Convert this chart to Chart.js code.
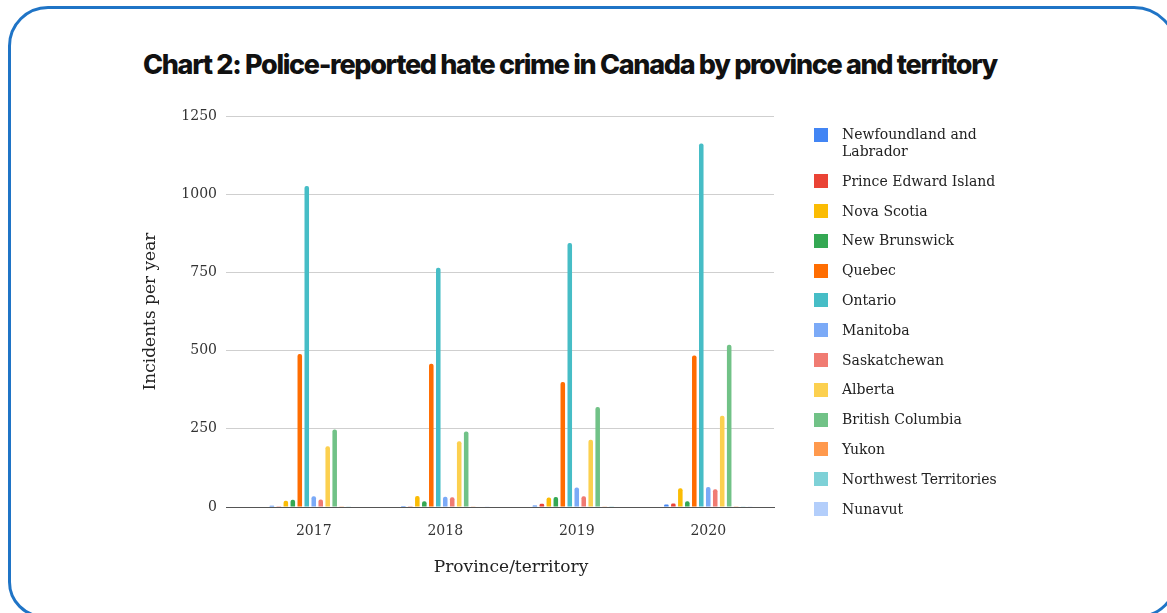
<!DOCTYPE html>
<html>
<head>
<meta charset="utf-8">
<title>Chart 2: Police-reported hate crime in Canada</title>
<script src="https://cdn.jsdelivr.net/npm/chart.js@4.4.1/dist/chart.umd.min.js"></script>
<style>
  html, body { margin: 0; padding: 0; background: #fff; }
  body { width: 1167px; height: 613px; position: relative; overflow: hidden; }
  .card {
    position: absolute; left: 8px; top: 6px; width: 1170px; height: 612px;
    border: 3px solid #1f74c6; border-radius: 40px 44px 40px 36px; box-sizing: border-box;
  }
  #chart { position: absolute; left: 0; top: 0; }
  .title {
    position: absolute; left: 143px; top: 52px; margin: 0; white-space: nowrap;
    font-family: Inter, "Liberation Sans", sans-serif; font-weight: 800;
    font-size: 27px; line-height: 26px; color: #111;
  }
  #legend {
    position: absolute; left: 814px; top: 126px; margin: 0; padding: 0; list-style: none;
    font-family: "DejaVu Serif", serif; font-size: 14px; line-height: 17px; color: #222;
  }
  #legend li { display: flex; align-items: flex-start; margin-bottom: 12.8px; }
  #legend .swatch { width: 14px; height: 14px; margin-top: 1.5px; margin-right: 14px; flex: none; }
  #legend .text { max-width: 170px; }
</style>
</head>
<body>
<div class="card"></div>
<h2 class="title" id="title">Chart 2: Police-reported hate crime in Canada by province and territory</h2>
<canvas id="chart" width="1167" height="613"></canvas>
<ul id="legend"></ul>
<script>
const years = ['2017', '2018', '2019', '2020'];
const yTicks = [0, 250, 500, 750, 1000, 1250];

const newfoundland = [4, 3, 5, 8];
const princeEdward = [2, 2, 10, 11];
const novaScotia = [20, 35, 30, 60];
const newBrunswick = [23, 18, 32, 18];
const quebec = [489, 458, 400, 484];
const ontario = [1026, 765, 844, 1162];
const manitoba = [34, 33, 62, 64];
const saskatchewan = [24, 31, 34, 57];
const alberta = [194, 210, 215, 292];
const britishColumbia = [248, 241, 320, 519];
const yukon = [2, 1, 1, 2];
const northwest = [1, 0, 2, 1];
const nunavut = [0, 1, 0, 1];

const series = [
  ['Newfoundland and Labrador', newfoundland, '#4285f4'],
  ['Prince Edward Island', princeEdward, '#ea4335'],
  ['Nova Scotia', novaScotia, '#fbbc04'],
  ['New Brunswick', newBrunswick, '#34a853'],
  ['Quebec', quebec, '#ff6d01'],
  ['Ontario', ontario, '#46bdc6'],
  ['Manitoba', manitoba, '#7baaf7'],
  ['Saskatchewan', saskatchewan, '#f07b72'],
  ['Alberta', alberta, '#fcd04f'],
  ['British Columbia', britishColumbia, '#71c287'],
  ['Yukon', yukon, '#ff994d'],
  ['Northwest Territories', northwest, '#7ed1d7'],
  ['Nunavut', nunavut, '#b3cefb'],
];

const serif = 'DejaVu Serif';

function fitTitle() {
  // squeeze the bold title to the width it has in the original
  const el = document.getElementById('title');
  const target = 854;
  const chars = el.textContent.length;
  const w = el.getBoundingClientRect().width;
  el.style.letterSpacing = `${(target - w) / chars}px`;
}

function renderLegend() {
  const legend = document.getElementById('legend');
  legend.innerHTML = series
    .map(([label, , color]) => `
      <li><span class="swatch" style="background:${color}"></span><span class="text">${label}</span></li>
    `)
    .join('');
}

function renderChart() {
  const ctx = document.getElementById('chart').getContext('2d');
  const datasets = series.map(([label, data, color]) => ({
    label,
    data,
    backgroundColor: color,
    borderWidth: 0,
    borderRadius: { topLeft: 2, topRight: 2 },
    categoryPercentage: 0.69,
    barPercentage: 0.65,
  }));

  new Chart(ctx, {
    type: 'bar',
    data: { labels: years, datasets },
    options: {
      responsive: false,
      animation: false,
      layout: { padding: { left: 0, right: 393, top: 116, bottom: 0 } },
      plugins: {
        legend: { display: false },
        tooltip: { enabled: false },
      },
      scales: {
        x: {
          grid: { display: false },
          border: { display: true, color: '#555', width: 1 },
          ticks: { font: { family: serif, size: 14 }, color: '#333', padding: 8 },
          title: {
            display: true,
            text: 'Province/territory',
            font: { family: serif, size: 17 },
            color: '#222',
            padding: { top: 0, bottom: 35 },
          },
          afterFit: (scale) => { scale.height = 106; },
        },
        y: {
          min: 0,
          max: 1250,
          afterBuildTicks: (scale) => { scale.ticks = yTicks.map((v) => ({ value: v })); },
          grid: {
            color: (c) => (c.tick && c.tick.value === 0 ? '#555' : '#cfcfcf'),
            tickLength: 22,
          },
          border: { display: false },
          ticks: {
            font: { family: serif, size: 14 },
            color: '#333',
            padding: 9,
            callback: (value) => String(value),
          },
          title: {
            display: true,
            text: 'Incidents per year',
            font: { family: serif, size: 17 },
            color: '#222',
            padding: { top: 140, bottom: 0 },
          },
          afterFit: (scale) => { scale.width = 248; },
        },
      },
    },
  });
}

fitTitle();
renderLegend();
renderChart();
</script>
</body>
</html>
